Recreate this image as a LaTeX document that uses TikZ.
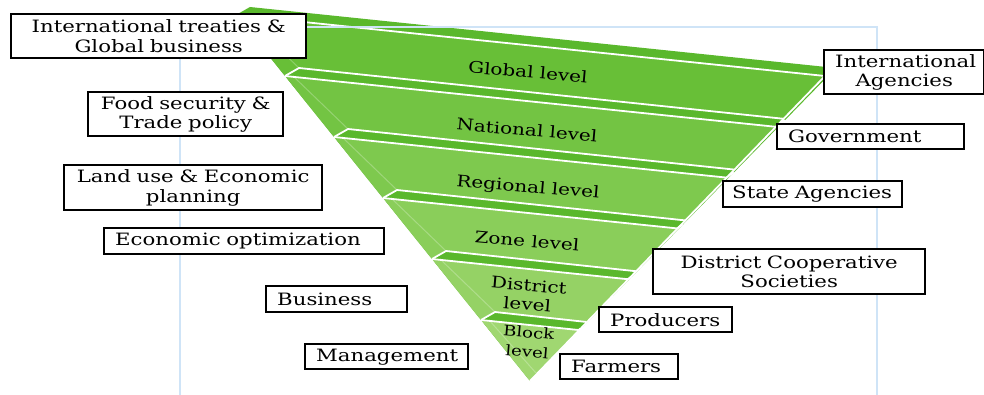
\documentclass[tikz,border=0pt]{standalone}
\usepackage{fontspec}
\setmainfont{DejaVu Serif}[FakeStretch=1.25]
\usetikzlibrary{calc}

\definecolor{bandgreen}{HTML}{5AB82C}
\definecolor{facetop}{HTML}{68BF37}
\definecolor{facebot}{HTML}{A0D771}
\definecolor{gridblue}{HTML}{CFE4F7}

\newcommand{\tagfont}{\fontsize{17}{19.5}\selectfont}
\newcommand{\lvlfont}{\fontsize{16}{19.5}\selectfont}
\newcommand{\blockfont}{\fontsize{14.5}{19.5}\selectfont}

\begin{document}
\begin{tikzpicture}[x=1pt, y=-1pt,
  tagbox/.style={draw, line width=2.4pt, fill=white, anchor=north west, inner xsep=11pt, inner ysep=0pt, font=\tagfont},
  wide/.style={align=center},
  single/.style={align=left},
  lvl/.style={rotate=-5, align=center, font=\lvlfont, inner sep=1pt},
  rim/.style={white, line width=1.8pt, line join=round}
]
\useasboundingbox (0,0) rectangle (984,395);

% slab corners along the left and right front edges
\foreach \k in {0,...,6} {
  \coordinate (L\k) at ({236+49*\k},{15+61*\k});
  \coordinate (R\k) at ({825-49.3*\k},{76+50.8*\k});
  \coordinate (O\k) at ($(R\k)+({11*(6-\k)/6},{-8*(6-\k)/6})$);
}

% funnel body, then the front face of each slab
\fill[bandgreen] (L0) -- ($(L0)+(14,-8)$) -- (O0) -- (L6) -- cycle;
\foreach \k [evaluate=\k as \n using int(\k+1), evaluate=\k as \mix using int(100-20*\k)] in {0,...,4} {
  \fill[facetop!\mix!facebot] (L\k) -- (R\k) -- ($(R\n)+(8,-8)$) -- ($(L\n)+(14,-8)$) -- (L\n) -- cycle;
  \draw[white, opacity=.25, line width=1pt] ($(L\k)+(8,0)$) -- ($(L\n)+(14,-8)$);
}
\fill[facebot] (L5) -- (R5) -- (L6) -- cycle;
\draw[white, opacity=.25, line width=1pt] ($(L5)+(8,0)$) -- ($(L6)+(6,-8)$);

% white edges of the slabs
\foreach \k in {0,...,5} {
  \draw[rim] (L\k) -- (R\k) -- (O\k);
}
\foreach \k in {1,...,5} {
  \draw[rim] (L\k) -- ++(14,-8) -- ($(R\k)+(8,-8)$);
}
\draw[rim] (R0) -- (L6);

% light frame
\draw[gridblue, line width=1.3pt] (180,395) -- (180,27) -- (877,27) -- (877,395);

% level names
\node[lvl] (global) at (528,72) {Global level};
\node[lvl] (national) at (527,130) {National level};
\node[lvl] (regional) at (528,188) {Regional level};
\node[lvl] (zone) at (527,241) {Zone level};
\node[lvl] (district) at (528,295) {District\\level};
\node[lvl, font=\blockfont] (block) at (528,342) {Block\\level};

% left column
\node[tagbox, wide, text width=273pt, minimum height=44pt] (treaties) at (10,13) {International treaties \&\\Global business};
\node[tagbox, wide, text width=173pt, minimum height=44pt] (food) at (87,91) {Food security \&\\Trade policy};
\node[tagbox, wide, text width=236pt, minimum height=45pt] (landuse) at (63,164) {Land use \& Economic\\planning};
\node[tagbox, single, text width=258pt, minimum height=26pt] (optim) at (103,227) {Economic~optimization};
\node[tagbox, single, text width=119pt, minimum height=26pt] (business) at (265,285) {Business};
\node[tagbox, single, text width=141pt, minimum height=25pt] (manage) at (304,343) {Management};

% right column
\node[tagbox, wide, text width=138pt, minimum height=44pt] (agencies) at (823,49) {International\\Agencies};
\node[tagbox, single, text width=165pt, minimum height=25pt] (govt) at (776,123) {Government};
\node[tagbox, single, inner xsep=9pt, text width=161pt, minimum height=26pt] (stateag) at (722,180) {State~Agencies};
\node[tagbox, wide, text width=250pt, minimum height=45pt] (coop) at (652,248) {District Cooperative\\Societies};
\node[tagbox, single, text width=111pt, minimum height=25pt] (producers) at (598,306) {Producers};
\node[tagbox, single, text width=96pt, minimum height=25pt] (farmers) at (559,353) {Farmers};
\end{tikzpicture}
\end{document}
